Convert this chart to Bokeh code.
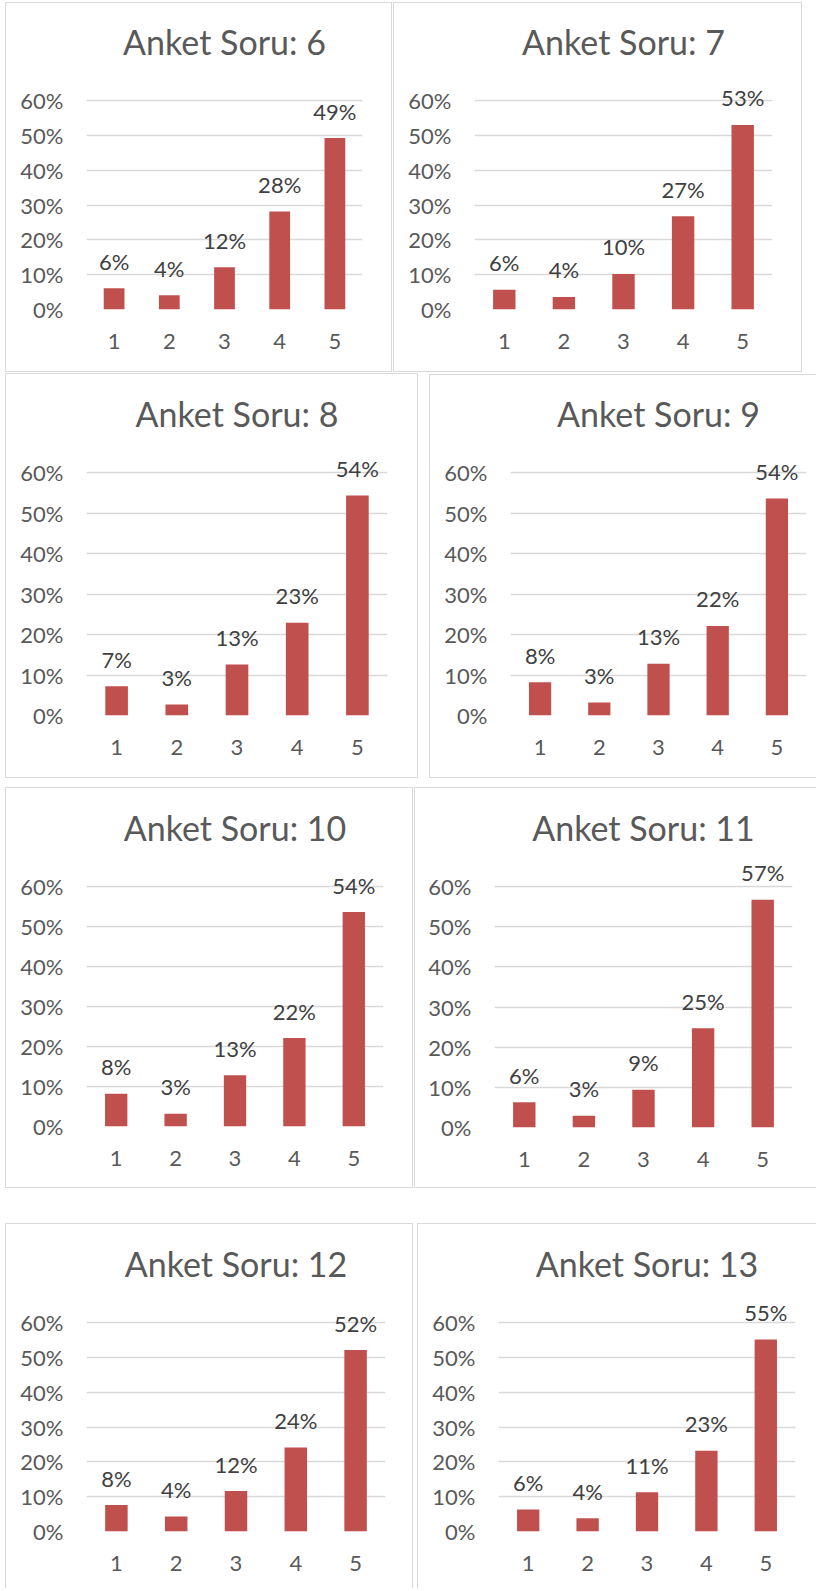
from bokeh.plotting import figure
from bokeh.models import NumeralTickFormatter, FixedTicker, Spacer
from bokeh.layouts import row, column
from bokeh.embed import file_html
from bokeh.resources import INLINE
from bokeh.core.properties import value

# ---------------- data ----------------
categories = ["1", "2", "3", "4", "5"]
titles = ["Anket Soru: 6", "Anket Soru: 7", "Anket Soru: 8", "Anket Soru: 9",
          "Anket Soru: 10", "Anket Soru: 11", "Anket Soru: 12", "Anket Soru: 13"]
q6 = [0.061, 0.041, 0.121, 0.281, 0.492]
q7 = [0.057, 0.036, 0.102, 0.268, 0.530]
q8 = [0.072, 0.027, 0.126, 0.229, 0.543]
q9 = [0.082, 0.032, 0.128, 0.221, 0.536]
q10 = [0.082, 0.032, 0.128, 0.221, 0.536]
q11 = [0.063, 0.029, 0.094, 0.247, 0.567]
q12 = [0.076, 0.043, 0.116, 0.241, 0.521]
q13 = [0.063, 0.038, 0.113, 0.232, 0.551]
y_ticks = [0.0, 0.1, 0.2, 0.3, 0.4, 0.5, 0.6]
series = [q6, q7, q8, q9, q10, q11, q12, q13]

# ---------------- layout (page pixel positions) ----------------
panels = [
    dict(L=5, T=2, R=391, B=371, sides="ltrb", fl=86, fr=362, y60=100, y0=309),
    dict(L=393, T=2, R=801, B=371, sides="ltrb", fl=474, fr=772, y60=100, y0=309),
    dict(L=5, T=373, R=417, B=777, sides="ltrb", fl=86, fr=387, y60=472, y0=715),
    dict(L=429, T=374, R=815, B=777, sides="ltb", fl=510, fr=806, y60=472, y0=715),
    dict(L=5, T=787, R=412, B=1187, sides="ltrb", fl=86, fr=383, y60=886, y0=1126),
    dict(L=414, T=787, R=815, B=1187, sides="ltb", fl=494, fr=792, y60=886, y0=1127),
    dict(L=5, T=1223, R=412, B=1587, sides="ltr", fl=86, fr=385, y60=1322, y0=1531),
    dict(L=417, T=1223, R=815, B=1587, sides="lt", fl=498, fr=795, y60=1322, y0=1531),
]

BAR = "#c0504d"
GRID = "#d9d9d9"
AXIS_TXT = "#595959"
LBL_TXT = "#404040"
FONT = "Lato"
BORDER = "1px solid #d9d9d9"


def make_panel(title, vals, g):
    bl = 1 if "l" in g["sides"] else 0
    br = 1 if "r" in g["sides"] else 0
    bt = 1 if "t" in g["sides"] else 0
    bb = 1 if "b" in g["sides"] else 0
    fw = g["R"] - g["L"] + 1 - bl - br
    fh = g["B"] - g["T"] + 1 - bt - bb
    x0 = g["L"] + bl
    yt = g["T"] + bt
    ftop = g["y60"] - 30
    scale = (g["y0"] - g["y60"]) / 0.6
    ytop = 0.6 + (g["y60"] - ftop) / scale

    p = figure(x_range=categories, y_range=(0, ytop), width=fw, height=fh,
               output_backend="svg", toolbar_location=None,
               min_border_left=g["fl"] - x0, min_border_right=x0 + fw - g["fr"],
               min_border_top=ftop - yt, min_border_bottom=yt + fh - g["y0"],
               title=title)
    p.title.align = "center"
    p.title.text_font = FONT
    p.title.text_font_size = "34px"
    p.title.text_font_style = "normal"
    p.title.text_color = AXIS_TXT
    p.title.standoff = 18

    p.outline_line_color = None
    p.background_fill_color = "white"
    p.border_fill_color = "white"

    labels = [f"{round(v * 100)}%" for v in vals]
    p.vbar(x=categories, top=vals, width=0.376, bottom=0,
           fill_color=BAR, line_color=None)
    p.text(x=categories, y=vals, text=labels, text_font=value(FONT),
           text_font_size="22px", text_align="center", text_baseline="alphabetic",
           y_offset=-27, text_color=LBL_TXT)

    p.xgrid.grid_line_color = None
    p.ygrid.ticker = FixedTicker(ticks=y_ticks)
    p.ygrid.grid_line_color = GRID
    p.ygrid.grid_line_width = 1.3

    p.yaxis.ticker = FixedTicker(ticks=y_ticks)
    p.yaxis.formatter = NumeralTickFormatter(format="0%")
    for ax in (p.xaxis, p.yaxis):
        ax.axis_line_color = None
        ax.major_tick_line_color = None
        ax.minor_tick_line_color = None
        ax.major_tick_out = 0
        ax.major_tick_in = 0
        ax.major_label_text_font = FONT
        ax.major_label_text_font_size = "22px"
        ax.major_label_text_color = AXIS_TXT
    p.yaxis.major_label_standoff = 23
    p.xaxis.major_label_standoff = 24

    st = {}
    if bl:
        st["border-left"] = BORDER
    if br:
        st["border-right"] = BORDER
    if bt:
        st["border-top"] = BORDER
    if bb:
        st["border-bottom"] = BORDER
    return column(p, styles=st)


cells = [make_panel(t, s, g) for t, s, g in zip(titles, series, panels)]

row_tops = [2, 373, 787, 1223]
rows = []
for r in range(4):
    gl, gr = panels[2 * r], panels[2 * r + 1]
    cl, cr = cells[2 * r], cells[2 * r + 1]
    items = []
    if gl["L"] > 0:
        items.append(Spacer(width=gl["L"], height=1))
    dl = gl["T"] - row_tops[r]
    items.append(column(Spacer(height=dl, width=1), cl) if dl > 0 else cl)
    items.append(Spacer(width=gr["L"] - gl["R"] - 1, height=1))
    dr = gr["T"] - row_tops[r]
    items.append(column(Spacer(height=dr, width=1), cr) if dr > 0 else cr)
    rows.append(row(*items))

layout_items = [Spacer(height=row_tops[0], width=1)]
prev_bottom = None
for r in range(4):
    if prev_bottom is not None:
        gap = row_tops[r] - prev_bottom - 1
        if gap > 0:
            layout_items.append(Spacer(height=gap, width=1))
    layout_items.append(rows[r])
    prev_bottom = max(panels[2 * r]["B"], panels[2 * r + 1]["B"])

page = column(*layout_items)

open("out.html", "w").write(file_html(page, INLINE))
